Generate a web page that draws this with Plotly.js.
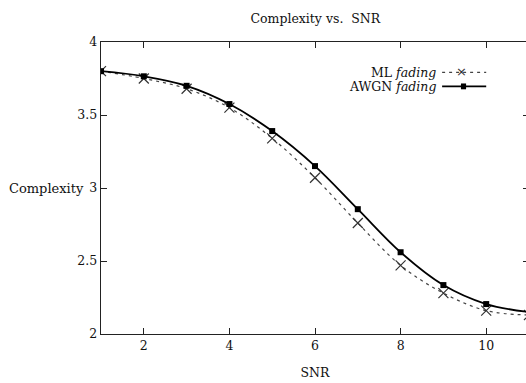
<!DOCTYPE html>
<html><head><meta charset="utf-8">
<script src="https://cdn.plot.ly/plotly-3.0.1.min.js"></script>
<style>html,body{margin:0;padding:0;overflow:hidden;background:#fff;}</style>
</head><body><div id="chart"></div>
<script>
const snr = [1,2,3,4,5,6,7,8,9,10,11];
const mlFading = [3.80,3.75,3.68,3.55,3.34,3.07,2.76,2.47,2.28,2.16,2.13];
const awgnFading = [3.80,3.765,3.70,3.575,3.39,3.15,2.855,2.56,2.335,2.205,2.15];
const xTicks = [2,4,6,8,10];
const yTicks = [2,2.5,3,3.5,4];
const seriesNames = ['ML fading','AWGN fading'];

const font = {family:'DejaVu Serif, Liberation Serif, serif', size:12.5, color:'#111'};

const traces = [
  {x:snr, y:mlFading, name:seriesNames[0], mode:'lines+markers', showlegend:false,
   line:{color:'#444', width:1.2, dash:'3px,4px', shape:'spline'},
   marker:{symbol:'x-thin-open', size:10, color:'#333', line:{width:1.2, color:'#333'}}},
  {x:snr, y:awgnFading, name:seriesNames[1], mode:'lines+markers', showlegend:false,
   line:{color:'#000', width:1.8, shape:'spline'},
   marker:{symbol:'square', size:6, color:'#000'}}
];

const layout = {
  width:530, height:383,
  margin:{l:101, r:1, t:42, b:49},
  paper_bgcolor:'#fff', plot_bgcolor:'#fff',
  font:font,
  showlegend:false,
  title:{text:'Complexity vs.  SNR', x:0.595, xanchor:'center', y:0.952, yanchor:'middle', font:font},
  xaxis:{range:[1,11], tickvals:xTicks, ticktext:xTicks.map(String), ticks:'inside', ticklen:6,
    tickcolor:'#222', showline:true, linecolor:'#222', linewidth:1.3, mirror:'ticks',
    showgrid:false, zeroline:false, tickfont:font,
    title:{text:'SNR', font:font, standoff:16}},
  yaxis:{range:[2,4], tickvals:yTicks, ticktext:yTicks.map(String), ticks:'inside', ticklen:6,
    tickcolor:'#222', showline:true, linecolor:'#222', linewidth:1.3, mirror:'ticks',
    showgrid:false, zeroline:false, tickfont:font},
  annotations:[
    {xref:'paper', yref:'paper', x:-0.005, y:0.5, xanchor:'right', yanchor:'middle',
     text:'Complexity', showarrow:false, font:{family:font.family, size:13, color:'#111'}, xshift:-13},
    {xref:'paper', yref:'paper', x:0.787, y:0.896, xanchor:'right', yanchor:'middle',
     text:'ML <i>fading</i>', showarrow:false, font:font},
    {xref:'paper', yref:'paper', x:0.787, y:0.848, xanchor:'right', yanchor:'middle',
     text:'AWGN <i>fading</i>', showarrow:false, font:font},
    {xref:'paper', yref:'paper', x:0.843, y:0.898, xanchor:'center', yanchor:'middle',
     text:'×', showarrow:false, font:{family:'DejaVu Sans, sans-serif', size:13, color:'#333'}}
  ],
  shapes:[
    {type:'line', xref:'paper', yref:'paper', x0:0.797, x1:0.9, y0:0.896, y1:0.896,
     line:{color:'#444', width:1.2, dash:'3px,4px'}},
    {type:'line', xref:'paper', yref:'paper', x0:0.797, x1:0.9, y0:0.848, y1:0.848,
     line:{color:'#000', width:1.8}},
    {type:'rect', xref:'paper', yref:'paper', x0:0.841, x1:0.853, y0:0.838, y1:0.858,
     fillcolor:'#000', line:{width:0}}
  ]
};
Plotly.newPlot('chart', traces, layout, {displayModeBar:false, staticPlot:true});
</script></body></html>
